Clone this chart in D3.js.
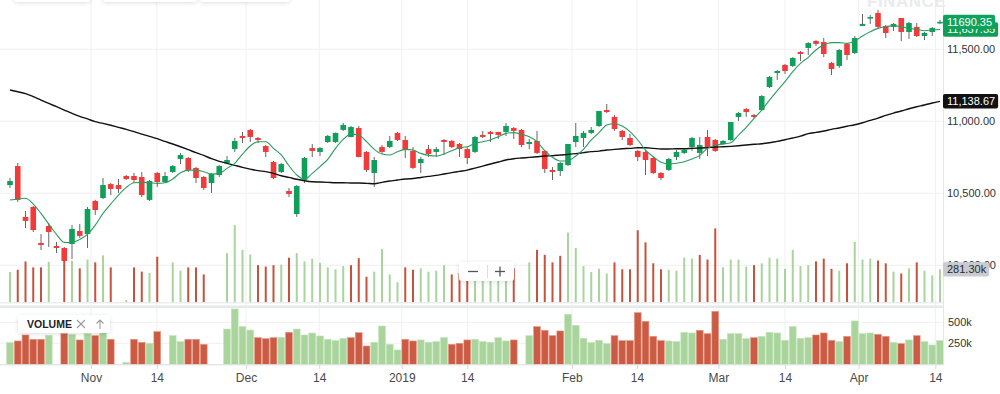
<!DOCTYPE html>
<html>
<head>
<meta charset="utf-8">
<script src="https://cdn.jsdelivr.net/npm/d3@7"></script>
<style>
	html, body { margin: 0; padding: 0; background: #fff; }
	svg { display: block; font-family: "Helvetica Neue", Helvetica, "Liberation Sans", Arial, sans-serif; }
</style>
</head>
<body>
<div id="chart"></div>
<script>
"use strict";

//
// Data (daily bars)
//
var opens = [10557,10689,10336,10405,10155,10273,10134,10120,10148,10238,10217,10447,10467,10564,10557,10620,10620,10613,10454,10641,
	10578,10648,10738,10745,10676,10613,10571,10627,10710,10807,10898,10940,10884,10828,10717,10648,10516,10356,10592,10814,
	10787,10856,10856,10940,10891,10953,10787,10641,10821,10821,10919,10870,10794,10710,10807,10787,10870,10863,10842,10807,
	10787,10905,10926,10926,10926,10953,10940,10842,10863,10794,10662,10655,10696,10856,10884,10919,10967,11078,11030,10933,
	10884,10794,10787,10745,10641,10662,10752,10780,10821,10780,10891,10870,10842,10870,11030,11085,11044,11078,11238,11335,
	11391,11384,11481,11509,11557,11550,11405,11384,11537,11474,11662,11717,11752,11662,11655,11717,11620,11655,11592,11620,11682];
var highs = [10606,10710,10377,10412,10217,10294,10162,10127,10280,10287,10405,10454,10606,10571,10599,10627,10641,10648,10592,10648,
	10648,10696,10780,10752,10682,10620,10641,10696,10759,10884,10926,10946,10891,10835,10724,10710,10537,10557,10752,10842,
	10821,10905,10921,10988,10967,10967,10794,10752,10835,10898,10926,10898,10821,10752,10835,10821,10877,10870,10849,10821,
	10898,10933,10933,10926,10988,10960,10946,10877,10933,10801,10682,10717,10842,10988,10933,10960,11071,11120,11044,10940,
	10912,10801,10794,10752,10648,10745,10801,10807,10891,10891,10940,10877,10870,10995,11064,11092,11051,11182,11314,11356,
	11398,11446,11488,11550,11564,11578,11412,11502,11543,11592,11745,11738,11773,11669,11682,11717,11689,11682,11620,11655,11703];
var lows = [10537,10440,10259,10231,10106,10127,10085,10023,10044,10190,10120,10349,10460,10488,10502,10592,10571,10474,10447,10544,
	10571,10641,10703,10648,10571,10523,10502,10613,10703,10787,10849,10856,10849,10752,10599,10641,10474,10336,10571,10752,
	10759,10849,10849,10933,10889,10749,10648,10544,10773,10814,10863,10745,10669,10641,10752,10752,10766,10814,10752,10703,
	10780,10884,10856,10877,10898,10877,10821,10807,10773,10641,10592,10620,10689,10821,10821,10912,10960,11057,10933,10870,
	10828,10724,10627,10634,10592,10655,10731,10773,10794,10738,10759,10787,10835,10863,11002,11030,11023,11071,11231,11287,
	11328,11377,11418,11460,11523,11446,11321,11370,11425,11467,11662,11676,11648,11578,11627,11557,11571,11585,11564,11592,11676];
var closes = [10585,10454,10308,10245,10141,10231,10120,10030,10252,10204,10391,10384,10557,10530,10530,10599,10592,10488,10585,10578,
	10620,10689,10766,10662,10606,10537,10634,10689,10731,10863,10884,10891,10870,10787,10606,10703,10495,10550,10745,10794,
	10814,10898,10919,10974,10960,10752,10662,10731,10787,10863,10870,10801,10676,10738,10773,10807,10856,10821,10807,10745,
	10891,10891,10912,10905,10967,10933,10835,10856,10780,10669,10648,10710,10842,10898,10919,10940,11071,11064,10946,10891,
	10835,10752,10731,10641,10606,10738,10787,10801,10884,10835,10821,10794,10863,10995,11057,11064,11030,11175,11307,11349,
	11349,11439,11467,11543,11537,11467,11363,11495,11460,11578,11676,11724,11655,11613,11676,11620,11682,11592,11613,11648,11690.35];

// volume in thousands, 1 = up day (green), 0 = down day (red)
var volumes = [258,278,349,298,298,345,0,365,355,290,365,341,400,298,0,20,298,262,250,389,
	0,341,270,298,298,238,0,0,420,659,448,408,317,305,317,321,381,420,349,373,
	337,298,282,309,317,377,218,262,456,238,171,298,278,290,262,270,317,238,250,290,
	298,270,262,317,278,290,0,341,448,405,341,397,595,464,309,258,286,246,341,282,
	282,615,512,333,282,278,270,381,373,405,365,631,298,365,365,305,317,333,381,373,
	286,448,309,317,349,373,286,270,333,516,365,373,357,333,262,246,290,341,270,230,281.30];
var volumeUp = [1,0,0,0,0,1,0,0,1,0,1,0,1,0,0,1,0,0,1,0,
	1,1,1,0,0,0,0,1,1,1,1,1,0,0,0,1,0,1,1,1,
	1,1,1,1,0,0,0,1,1,1,1,0,0,1,1,1,1,0,0,0,
	1,1,1,1,1,0,0,1,0,0,0,0,1,1,1,1,1,1,0,0,
	0,0,0,0,0,1,1,1,1,0,0,0,1,1,1,1,0,1,1,1,
	1,1,1,1,0,0,0,1,0,1,1,1,0,0,1,0,1,0,1,1,1];

// moving averages
var maFast = [10453,10460,10465,10425,10360,10286,10215,10159,10157,10180,10215,10279,10360,10425,10488,10541,10573,10576,10573,10569,
	10573,10599,10643,10661,10661,10650,10634,10638,10673,10708,10772,10828,10858,10858,10812,10766,10691,10627,10597,10638,
	10685,10736,10812,10874,10911,10904,10858,10805,10773,10766,10789,10805,10800,10777,10763,10759,10773,10796,10816,10823,
	10847,10858,10870,10893,10916,10921,10909,10893,10858,10796,10749,10724,10726,10759,10805,10870,10921,10974,10985,10967,
	10928,10870,10800,10754,10715,10703,10708,10719,10738,10763,10812,10833,10842,10851,10904,10958,11020,11078,11147,11212,
	11275,11344,11402,11444,11495,11529,11546,11546,11541,11557,11592,11622,11645,11657,11664,11657,11645,11638,11629,11634,11637.35];
var maSlow = [11217,11205,11192,11171,11147,11124,11101,11078,11055,11034,11016,10997,10985,10972,10958,10944,10928,10911,10895,10879,
	10860,10842,10823,10803,10782,10763,10740,10722,10708,10694,10680,10668,10657,10650,10638,10622,10610,10597,10587,10580,
	10578,10576,10573,10573,10571,10571,10569,10566,10576,10585,10592,10599,10603,10610,10617,10624,10634,10643,10652,10661,
	10675,10689,10703,10717,10731,10740,10745,10749,10754,10759,10761,10766,10770,10775,10782,10789,10793,10800,10805,10809,
	10812,10816,10816,10812,10807,10807,10809,10809,10812,10814,10816,10821,10823,10826,10830,10835,10840,10844,10851,10860,
	10872,10884,10897,10914,10923,10932,10944,10953,10965,10976,10990,11006,11022,11041,11057,11071,11087,11101,11113,11127,11138.67];

var priceTicks = [10000, 10500, 11000, 11500];
var volumeTicks = [250, 500];
var timeLabels = ["Nov", "14", "Dec", "14", "2019", "14", "Feb", "14", "Mar", "14", "Apr", "14"];
var timeTickAt = [10.45, 18.95, 30.45, 39.9, 50.55, 59, 72.5, 80.9, 91.4, 100, 109.5, 119.4];

var bars = closes.map(function(c, i) {
	return { i: i, o: opens[i], h: highs[i], l: lows[i], c: c, v: volumes[i], up: volumeUp[i] };
});

//
// Setup Variables
//
var canvasWidth = 1000;
var canvasHeight = 394;
var plotRight = 943;
var mainBottom = 302.3;
var volTop = 308;
var volBottom = 364.3;

var x = d3.scaleLinear().domain([0, 120]).range([10, 940]);
var y = d3.scaleLinear().domain([9743, 11842]).range([mainBottom, 0]);
var yVolMain = d3.scaleLinear().domain([0, 700]).range([mainBottom, mainBottom - 82]);
var yVol = d3.scaleLinear().domain([0, 500]).range([volBottom, 322.3]);

var green = "#0e9f5b", red = "#f23a3a";
var volGreen = "#a9d59d", volRed = "#cc5b44";

var svg = d3.select("#chart")
	.append("svg")
		.attr("width", canvasWidth)
		.attr("height", canvasHeight);

var defs = svg.append("defs");
defs.append("clipPath").attr("id", "mainClip")
	.append("rect").attr("x", 0).attr("y", 0).attr("width", plotRight).attr("height", mainBottom);
defs.append("clipPath").attr("id", "volClip")
	.append("rect").attr("x", 0).attr("y", volTop).attr("width", plotRight).attr("height", volBottom - volTop);
var shadow = defs.append("filter").attr("id", "shadow")
	.attr("x", "-20%").attr("y", "-40%").attr("width", "140%").attr("height", "180%");
shadow.append("feDropShadow").attr("dx", 0).attr("dy", 1).attr("stdDeviation", 2)
	.attr("flood-color", "#000").attr("flood-opacity", 0.13);

//
// Grid
//
var grid = svg.append("g").attr("id", "grid");
grid.selectAll(".vgrid")
	.data(timeTickAt)
	.enter().append("line")
		.attr("x1", function(d) { return x(d); })
		.attr("x2", function(d) { return x(d); })
		.attr("y1", 0).attr("y2", volBottom)
		.attr("stroke", "#f0f0f2").attr("stroke-width", 1);
grid.selectAll(".hgrid")
	.data(priceTicks)
	.enter().append("line")
		.attr("x1", 0).attr("x2", plotRight)
		.attr("y1", function(d) { return y(d); })
		.attr("y2", function(d) { return y(d); })
		.attr("stroke", "#f0f0f2");
grid.selectAll(".vhgrid")
	.data(volumeTicks)
	.enter().append("line")
		.attr("x1", 0).attr("x2", plotRight)
		.attr("y1", function(d) { return yVol(d); })
		.attr("y2", function(d) { return yVol(d); })
		.attr("stroke", "#f0f0f2");

// pane borders
grid.append("line").attr("x1", 0).attr("x2", plotRight).attr("y1", mainBottom + 0.5).attr("y2", mainBottom + 0.5)
	.attr("stroke", "#e3e5ea");
grid.append("rect").attr("x", 0).attr("y", 305.5).attr("width", plotRight).attr("height", 2.5)
	.attr("fill", "#e6e8ec");
grid.append("line").attr("x1", 0).attr("x2", plotRight).attr("y1", volBottom + 0.5).attr("y2", volBottom + 0.5)
	.attr("stroke", "#d8dbe0");
grid.append("line").attr("x1", plotRight + 0.5).attr("x2", plotRight + 0.5).attr("y1", 0).attr("y2", volBottom + 1)
	.attr("stroke", "#e3e5ea");

// faint header bar shadow and watermark
svg.append("g").selectAll("rect")
	.data([[14, 76], [103, 94], [200, 90]])
	.enter().append("rect")
		.attr("x", function(d) { return d[0]; }).attr("y", -24)
		.attr("width", function(d) { return d[1]; }).attr("height", 26)
		.attr("rx", 4).attr("fill", "#fff").attr("filter", "url(#shadow)");
svg.append("text").attr("x", 867).attr("y", 6.5)
	.attr("font-size", 17).attr("font-weight", 700).attr("letter-spacing", 0.5)
	.attr("fill", "#ebebeb").text("FINANCE");

//
// Volume overlay in main pane
//
var main = svg.append("g").attr("clip-path", "url(#mainClip)");
main.selectAll(".vthin")
	.data(bars.filter(function(d) { return d.v > 0; }))
	.enter().append("rect")
		.attr("x", function(d) { return x(d.i) - 1; })
		.attr("width", 2)
		.attr("y", function(d) { return yVolMain(d.v); })
		.attr("height", function(d) { return mainBottom - yVolMain(d.v); })
		.attr("fill", function(d) { return d.up ? volGreen : "#c4533e"; });

//
// Candles
//
var candles = main.selectAll(".candle")
	.data(bars)
	.enter().append("g");
candles.append("line")
	.attr("x1", function(d) { return x(d.i); })
	.attr("x2", function(d) { return x(d.i); })
	.attr("y1", function(d) { return y(d.h); })
	.attr("y2", function(d) { return y(d.l); })
	.attr("stroke", "#666").attr("stroke-width", 1);
candles.append("rect")
	.attr("x", function(d) { return x(d.i) - 2.8; })
	.attr("width", 5.6)
	.attr("y", function(d) { return y(Math.max(d.o, d.c)); })
	.attr("height", function(d) { return Math.max(1.6, Math.abs(y(d.o) - y(d.c))); })
	.attr("fill", function(d) { return d.c >= d.o ? green : red; });

//
// Moving averages
//
var line = function(values) {
	return d3.line()
		.x(function(d, i) { return x(i); })
		.y(function(d) { return y(d); })
		.curve(d3.curveMonotoneX)(values);
};
main.append("path").attr("d", line(maSlow))
	.attr("fill", "none").attr("stroke", "#111").attr("stroke-width", 1.4);
main.append("path").attr("d", line(maFast))
	.attr("fill", "none").attr("stroke", "#2c9b5e").attr("stroke-width", 1.1);

//
// Volume pane
//
var vol = svg.append("g").attr("clip-path", "url(#volClip)");
vol.selectAll(".vbar")
	.data(bars.filter(function(d) { return d.v > 0; }))
	.enter().append("rect")
		.attr("x", function(d) { return x(d.i) - 3.4; })
		.attr("width", 6.8)
		.attr("y", function(d) { return yVol(d.v); })
		.attr("height", function(d) { return volBottom - yVol(d.v); })
		.attr("fill", function(d) { return d.up ? volGreen : volRed; })
		.attr("stroke", function(d) { return d.up ? "#c4e3bc" : "#e49a89"; })
		.attr("stroke-width", 0.6);

//
// Axes
//
var priceAxis = d3.axisRight(y)
	.tickValues(priceTicks)
	.tickSize(0)
	.tickPadding(4)
	.tickFormat(d3.format(",.2f"));
svg.append("g")
	.attr("transform", "translate(" + plotRight + ",0)")
	.call(priceAxis)
	.call(function(g) { g.select(".domain").remove(); })
	.selectAll("text").attr("font-size", 11).attr("fill", "#333").attr("font-family", null);

var volAxis = d3.axisRight(yVol)
	.tickValues(volumeTicks)
	.tickSize(0)
	.tickPadding(5)
	.tickFormat(function(d) { return d + "k"; });
svg.append("g")
	.attr("transform", "translate(" + plotRight + ",0)")
	.call(volAxis)
	.call(function(g) { g.select(".domain").remove(); })
	.selectAll("text").attr("font-size", 11).attr("fill", "#333").attr("font-family", null);

var timeAxis = d3.axisBottom(x)
	.tickValues(timeTickAt)
	.tickSize(4)
	.tickPadding(5)
	.tickFormat(function(d, i) { return timeLabels[i]; });
svg.append("g")
	.attr("transform", "translate(0," + (volBottom + 0.5) + ")")
	.call(timeAxis)
	.call(function(g) {
		g.select(".domain").remove();
		g.selectAll("line").attr("stroke", "#d3d6db");
	})
	.selectAll("text").attr("font-size", 12).attr("fill", "#4a4a4a").attr("font-family", null);

//
// Last value tags
//
function tag(value, text, fill, color) {
	var g = svg.append("g").attr("transform", "translate(" + plotRight + "," + value + ")");
	var t = g.append("text").attr("x", 4).attr("dy", "0.35em")
		.attr("font-size", 11).attr("fill", color).text(text);
	var w = t.node().getComputedTextLength();
	g.insert("rect", "text").attr("x", 0).attr("y", -7.2).attr("width", w + 7).attr("height", 14.4)
		.attr("rx", 2).attr("fill", fill);
}
tag(yVolMain(volumes[120]), d3.format(".2f")(volumes[120]) + "k", "#c8cbd2", "#2a2a2a");
tag(y(maSlow[120]), d3.format(",.2f")(maSlow[120]), "#111", "#fff");
tag(y(maFast[120]), d3.format(",.2f")(maFast[120]), "#0d9f58", "#fff");
tag(y(closes[120]), d3.format(".2f")(closes[120]), "#0ea35c", "#fff");

//
// Zoom buttons and volume legend
//
var zoomBox = svg.append("g").attr("transform", "translate(459,262)");
zoomBox.append("rect").attr("width", 55).attr("height", 19).attr("rx", 3)
	.attr("fill", "#fff").attr("filter", "url(#shadow)");
zoomBox.append("line").attr("x1", 28.5).attr("x2", 28.5).attr("y1", 3).attr("y2", 16).attr("stroke", "#ddd");
zoomBox.append("line").attr("x1", 9).attr("x2", 19).attr("y1", 9.5).attr("y2", 9.5).attr("stroke", "#555").attr("stroke-width", 1.3);
zoomBox.append("line").attr("x1", 36).attr("x2", 46).attr("y1", 9.5).attr("y2", 9.5).attr("stroke", "#555").attr("stroke-width", 1.3);
zoomBox.append("line").attr("x1", 41).attr("x2", 41).attr("y1", 4.5).attr("y2", 14.5).attr("stroke", "#555").attr("stroke-width", 1.3);

var legend = svg.append("g").attr("transform", "translate(18,315)");
legend.append("rect").attr("width", 92).attr("height", 18).attr("rx", 3)
	.attr("fill", "#fff").attr("filter", "url(#shadow)");
legend.append("text").attr("x", 9).attr("y", 12.8)
	.attr("font-size", 10.5).attr("font-weight", 600).attr("fill", "#222").text("VOLUME");
legend.append("path").attr("d", "M59,5L67,13M67,5L59,13")
	.attr("stroke", "#9a9a9a").attr("stroke-width", 1.1).attr("fill", "none");
legend.append("path").attr("d", "M82,14V5M78.5,8.5L82,5L85.5,8.5")
	.attr("stroke", "#9a9a9a").attr("stroke-width", 1.1).attr("fill", "none");
</script>
</body>
</html>
